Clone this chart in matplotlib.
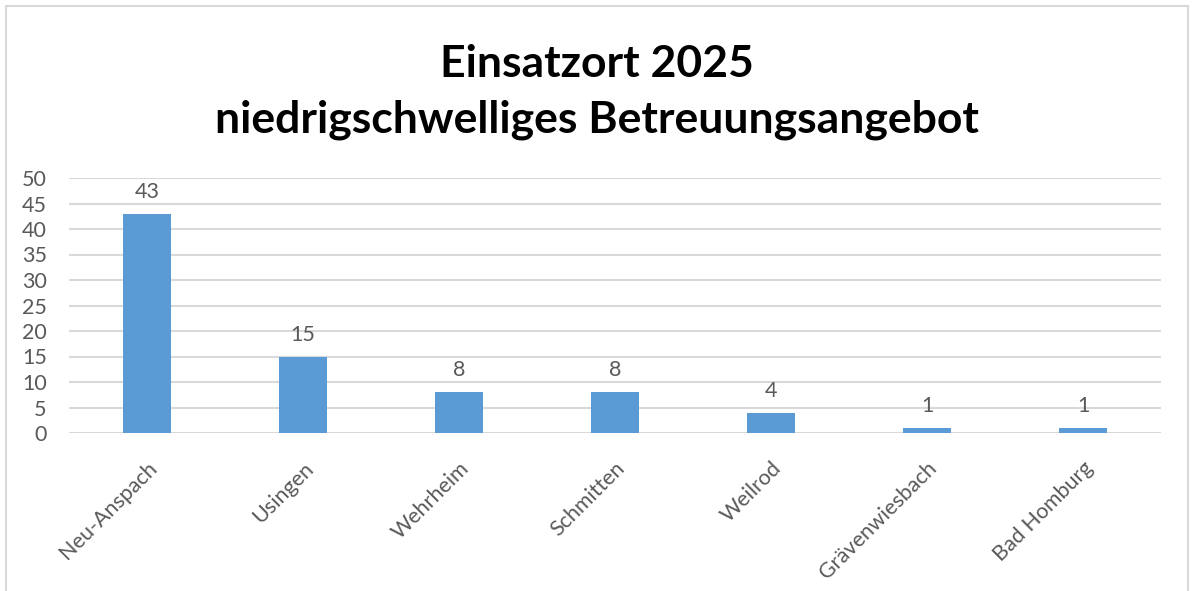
import matplotlib
matplotlib.use("Agg")
import matplotlib.pyplot as plt
from matplotlib.patches import Rectangle

categories = ["Neu-Anspach", "Usingen", "Wehrheim", "Schmitten", "Weilrod", "Grävenwiesbach", "Bad Homburg"]
values = [43, 15, 8, 8, 4, 1, 1]
yticks = [0, 5, 10, 15, 20, 25, 30, 35, 40, 45, 50]
title = "Einsatzort 2025\nniedrigschwelliges Betreuungsangebot"

plt.rcParams['font.family'] = ['Lato', 'DejaVu Sans']
text_color = "#595959"
bar_color = "#5B9BD5"
grid_color = "#D9D9D9"

fig = plt.figure(figsize=(11.92, 5.91), dpi=100)
ax = fig.add_axes([69/1192, 1-433/591, (1161-69)/1192, (433-178)/591])

x = list(range(len(categories)))
bars = ax.bar(x, values, width=0.31, color=bar_color, zorder=3)
for xi, v in zip(x, values):
    ax.text(xi, v + 2.3, str(v), ha="center", va="bottom", fontsize=15.5, color=text_color)

ax.set_xlim(-0.5, len(categories) - 0.5)
ax.set_ylim(0, 50)
ax.set_yticks(yticks)
ax.set_yticklabels([str(t) for t in yticks], fontsize=15.5, color=text_color)
ax.set_xticks(x)
ax.set_xticklabels(categories, rotation=45, ha="right", rotation_mode="anchor",
                   fontsize=15.5, color=text_color)
ax.tick_params(axis="both", length=0)
ax.tick_params(axis="y", pad=16)
ax.tick_params(axis="x", pad=18)
ax.grid(axis="y", color=grid_color, linewidth=1.5, zorder=0)
for s in ax.spines.values():
    s.set_visible(False)

fig.text(597/1192, 1-92/591, title, ha="center", va="center", fontsize=32,
         fontweight="bold", color="black", linespacing=1.45)

fig.patches.append(Rectangle((6/1192, -0.05), (1188-6)/1192, 1.05 - 6/591 + 0.0,
                             transform=fig.transFigure, fill=False,
                             edgecolor=grid_color, linewidth=1.5))

fig.savefig("out.png", dpi=100)
